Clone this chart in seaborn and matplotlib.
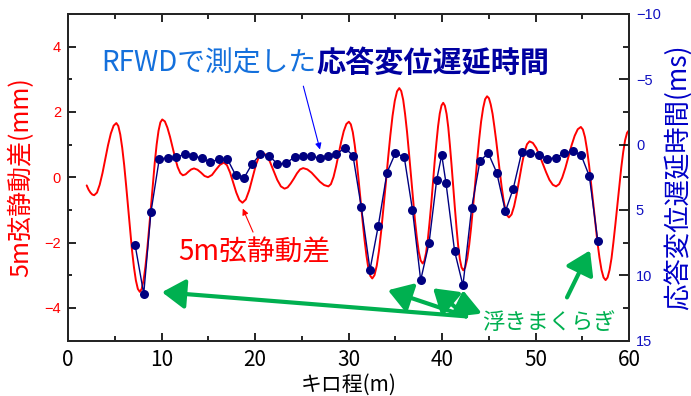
import matplotlib
matplotlib.use("Agg")
import matplotlib.pyplot as plt
import seaborn as sns
from matplotlib.ticker import MultipleLocator

# ---- data ----
chord_x = [2.0, 2.2, 2.4, 2.6, 2.8,
           3.10, 3.39, 3.69, 3.99, 4.28, 4.58, 4.88, 5.17,
           5.38, 5.59, 5.80, 6.01, 6.22, 6.43, 6.63, 6.84, 7.05, 7.26, 7.47, 7.68,
           7.88, 8.08, 8.28, 8.48, 8.68, 8.88, 9.08, 9.28, 9.48, 9.68, 9.88, 10.08,
           10.36, 10.63, 10.91, 11.18, 11.46, 11.73, 12.01, 12.28,
           12.58, 12.88, 13.18, 13.48,
           13.85, 14.23, 14.6, 14.97,
           15.40, 15.82, 16.25, 16.67,
           17.0, 17.34, 17.67, 18.0, 18.33, 18.66,
           19.02, 19.38, 19.73, 20.09, 20.45, 20.81,
           21.2, 21.59, 21.99, 22.38, 22.77, 23.16,
           23.49, 23.82, 24.16, 24.49, 24.82, 25.15,
           25.6, 26.05, 26.5, 26.95, 27.4, 27.85,
           28.12, 28.40, 28.67, 28.95, 29.22, 29.49, 29.77, 30.04,
           30.25, 30.46, 30.66, 30.87, 31.08, 31.29, 31.50, 31.71, 31.92, 32.12, 32.33, 32.54,
           32.78, 33.02, 33.26, 33.50, 33.74, 33.99, 34.23, 34.47, 34.71, 34.95, 35.19, 35.43,
           35.64, 35.85, 36.05, 36.26, 36.47, 36.68, 36.89, 37.10, 37.31, 37.51, 37.72, 37.93,
           38.11, 38.30, 38.48, 38.66, 38.85, 39.03, 39.21, 39.40, 39.58, 39.76, 39.95, 40.13,
           40.31, 40.49, 40.67, 40.84, 41.02, 41.20, 41.38, 41.56, 41.73, 41.91, 42.09, 42.27,
           42.48, 42.70, 42.91, 43.12, 43.33, 43.55, 43.76, 43.97, 44.18, 44.40, 44.61, 44.82,
           45.02, 45.21, 45.41, 45.60, 45.80, 45.99, 46.19, 46.38, 46.58, 46.77, 46.97, 47.16,
           47.44, 47.71, 47.99, 48.26, 48.54, 48.81, 49.09, 49.36,
           49.72, 50.07, 50.43, 50.78, 51.14, 51.49, 51.85, 52.2,
           52.53, 52.86, 53.19, 53.53, 53.86, 54.19, 54.52, 54.85,
           55.07, 55.29, 55.51, 55.73, 55.95, 56.18, 56.40, 56.62, 56.84, 57.06, 57.28, 57.5,
           57.71, 57.92, 58.13, 58.33, 58.54, 58.75, 58.96, 59.17, 59.38, 59.58, 59.79, 60.0]
chord_mm = [-0.25, -0.38, -0.47, -0.53, -0.55,
            -0.47, -0.23, 0.13, 0.56, 0.98, 1.34, 1.58, 1.66,
            1.57, 1.31, 0.90, 0.37, -0.26, -0.93, -1.60, -2.22, -2.75, -3.16, -3.42, -3.51,
            -3.42, -3.16, -2.74, -2.19, -1.55, -0.87, -0.19, 0.45, 1.00, 1.42, 1.68, 1.77,
            1.71, 1.52, 1.24, 0.92, 0.59, 0.31, 0.13, 0.06,
            0.09, 0.17, 0.24, 0.27,
            0.23, 0.14, 0.04, 0.00,
            0.07, 0.23, 0.38, 0.45,
            0.37, 0.14, -0.17, -0.47, -0.70, -0.78,
            -0.68, -0.40, -0.02, 0.37, 0.65, 0.75,
            0.68, 0.48, 0.20, -0.08, -0.28, -0.35,
            -0.31, -0.19, -0.04, 0.12, 0.24, 0.28,
            0.24, 0.14, 0.00, -0.14, -0.24, -0.28,
            -0.21, 0.01, 0.33, 0.71, 1.09, 1.41, 1.63, 1.70,
            1.62, 1.38, 1.00, 0.50, -0.08, -0.70, -1.32, -1.90, -2.40, -2.78, -3.02, -3.10,
            -3.00, -2.71, -2.25, -1.64, -0.94, -0.19, 0.57, 1.27, 1.88, 2.34, 2.63, 2.73,
            2.64, 2.37, 1.94, 1.39, 0.74, 0.05, -0.65, -1.30, -1.85, -2.28, -2.55, -2.64,
            -2.56, -2.31, -1.92, -1.41, -0.82, -0.18, 0.46, 1.05, 1.56, 1.95, 2.20, 2.28,
            2.19, 1.94, 1.53, 1.00, 0.38, -0.29, -0.95, -1.57, -2.10, -2.51, -2.76, -2.85,
            -2.76, -2.49, -2.07, -1.52, -0.88, -0.19, 0.51, 1.15, 1.70, 2.12, 2.39, 2.48,
            2.42, 2.23, 1.94, 1.55, 1.11, 0.63, 0.15, -0.30, -0.69, -0.98, -1.17, -1.23,
            -1.14, -0.89, -0.51, -0.07, 0.38, 0.76, 1.01, 1.10,
            1.05, 0.90, 0.67, 0.41, 0.15, -0.08, -0.23, -0.28,
            -0.21, -0.01, 0.28, 0.63, 0.98, 1.27, 1.47, 1.54,
            1.46, 1.23, 0.85, 0.37, -0.20, -0.81, -1.41, -1.98, -2.46, -2.84, -3.07, -3.15,
            -3.07, -2.84, -2.48, -2.00, -1.45, -0.86, -0.26, 0.29, 0.77, 1.13, 1.36, 1.44]

delay_x = [7.17, 8.10, 8.87, 9.76, 10.66, 11.58, 12.46, 13.37, 14.30, 15.18, 16.12, 17.04,
           17.94, 18.83, 19.67, 20.56, 21.50, 22.39, 23.32, 24.23, 25.13, 26.02, 26.92,
           27.81, 28.70, 29.60, 30.48, 31.37, 32.30, 33.19, 34.12, 35.01, 35.96, 36.84,
           37.72, 38.61, 39.43, 39.97, 40.43, 41.35, 42.24, 43.17, 44.06, 44.95, 45.85,
           46.78, 47.62, 48.52, 49.44, 50.34, 51.27, 52.16, 53.08, 53.98, 54.87, 55.76, 56.66]
delay_ms = [7.66, 11.42, 5.18, 1.10, 1.02, 0.97, 0.74, 0.84, 1.04, 1.33, 1.14, 1.10, 2.35,
            2.55, 1.50, 0.74, 0.84, 1.48, 1.43, 0.95, 0.87, 0.87, 1.04, 0.84, 0.74, 0.25,
            0.84, 4.80, 9.58, 6.20, 2.14, 0.66, 0.95, 4.99, 10.38, 7.56, 2.71, 0.79, 2.96,
            8.17, 10.78, 4.85, 1.25, 0.66, 2.14, 5.11, 3.37, 0.60, 0.64, 0.79, 1.07, 1.02,
            0.64, 0.51, 0.79, 2.42, 7.37]

x_ticks = [0, 10, 20, 30, 40, 50, 60]
left_ticks = [-4, -2, 0, 2, 4]
right_ticks = [-10, -5, 0, 5, 10, 15]

title_part1 = "RFWDで測定した"
title_part2 = "応答変位遅延時間"
chord_label = "5m弦静動差"
float_label = "浮きまくらぎ"
xlabel = "キロ程(m)"
ylabel_left = "5m弦静動差(mm)"
ylabel_right = "応答変位遅延時間(ms)"

# ---- style ----
sns.set_theme(style="ticks")
plt.rcParams["font.family"] = ["Noto Sans CJK JP", "DejaVu Sans"]
plt.rcParams["axes.linewidth"] = 1.4

RED = "#FF0000"
NAVY = "#000080"
GREEN = "#00B050"

fig = plt.figure(figsize=(6.91, 3.96), dpi=100)
W, H = 691, 396
ax = fig.add_axes([68 / W, 1 - 340.5 / H, 561 / W, 326.5 / H])
ax2 = ax.twinx()

sns.lineplot(x=chord_x, y=chord_mm, ax=ax, color=RED, linewidth=1.4,
             sort=False, estimator=None)
sns.lineplot(x=delay_x, y=delay_ms, ax=ax2, color=NAVY, linewidth=1.0, marker="o",
             markersize=6.5, markeredgewidth=0, markerfacecolor=NAVY,
             sort=False, estimator=None)

ax.set_xlim(0, 60)
ax.set_ylim(-5, 5)
ax2.set_ylim(15, -10)

ax.set_xticks(x_ticks)
ax.xaxis.set_minor_locator(MultipleLocator(5))
ax.set_yticks(left_ticks)
ax.yaxis.set_minor_locator(MultipleLocator(1))
ax2.set_yticks(right_ticks)
ax2.yaxis.set_minor_locator(MultipleLocator(2.5))

ax.tick_params(axis="x", which="both", direction="in", top=True, bottom=True,
               labelsize=15, labelcolor="black", pad=6, color="black")
ax.tick_params(axis="x", which="major", length=6, width=1.2)
ax.tick_params(axis="x", which="minor", length=3.5, width=1.2)
ax.tick_params(axis="y", which="both", direction="in", left=True, right=False,
               labelsize=10.5, labelcolor=RED, pad=5, color="black")
ax.tick_params(axis="y", which="major", length=6, width=1.2)
ax.tick_params(axis="y", which="minor", length=3, width=1.2)
ax2.tick_params(axis="y", which="both", direction="in", right=True, left=False,
                labelsize=10.5, labelcolor="#1010C0", pad=5, color="black")
ax2.tick_params(axis="y", which="major", length=7, width=1.2)
ax2.tick_params(axis="y", which="minor", length=4, width=1.2)

for lab in ax.get_yticklabels() + ax2.get_yticklabels():
    lab.set_family(["Liberation Sans", "DejaVu Sans"])
for lab in ax.get_xticklabels():
    lab.set_family(["Noto Sans CJK JP", "DejaVu Sans"])

for sp in ax.spines.values():
    sp.set_color("black")
    sp.set_linewidth(1.4)

ax.set_xlabel(xlabel, fontsize=15, color="black", labelpad=2)
ax.set_ylabel(ylabel_left, fontsize=18, color=RED)
ax.yaxis.set_label_coords(-0.0606, 0.5)
ax2.set_ylabel(ylabel_right, fontsize=19, color="#0000C8", rotation=90)
ax2.yaxis.set_label_coords(1.062, 0.5)

# ---- annotations (positions in data coords of left axis) ----
t1 = ax.text(3.6, 3.49, title_part1, fontsize=20, color="#1470DC",
             ha="left", va="center")
ax.annotate(title_part2, xy=(1, 0), xycoords=t1, ha="left", va="bottom",
            fontsize=21, color="#0000A0", fontweight="bold")

ax.text(11.76, -2.29, chord_label, fontsize=20, color=RED, ha="left", va="center")
ax.annotate("", xy=(18.69, -0.96), xytext=(19.79, -1.68),
            arrowprops=dict(arrowstyle="-|>", color=RED, lw=0.8,
                            mutation_scale=9, shrinkA=0, shrinkB=0))
ax.annotate("", xy=(26.95, 0.85), xytext=(25.17, 2.79),
            arrowprops=dict(arrowstyle="-|>", color="#0000FF", lw=0.8,
                            mutation_scale=9, shrinkA=0, shrinkB=0))

ax.text(44.28, -4.44, float_label, fontsize=16, color=GREEN, ha="left", va="center")
origin = (42.57, -4.26)
for tip in [(10.05, -3.52), (34.22, -3.46), (39.04, -3.40), (42.25, -3.46)]:
    ax.annotate("", xy=tip, xytext=origin,
                arrowprops=dict(arrowstyle="-|>,head_length=0.7,head_width=0.45",
                                color=GREEN, lw=3, mutation_scale=20,
                                shrinkA=0, shrinkB=0))
ax.annotate("", xy=(55.83, -2.24), xytext=(53.37, -3.68),
            arrowprops=dict(arrowstyle="-|>,head_length=0.7,head_width=0.45",
                            color=GREEN, lw=3, mutation_scale=20,
                            shrinkA=0, shrinkB=0))

fig.savefig("out.png", dpi=100)
